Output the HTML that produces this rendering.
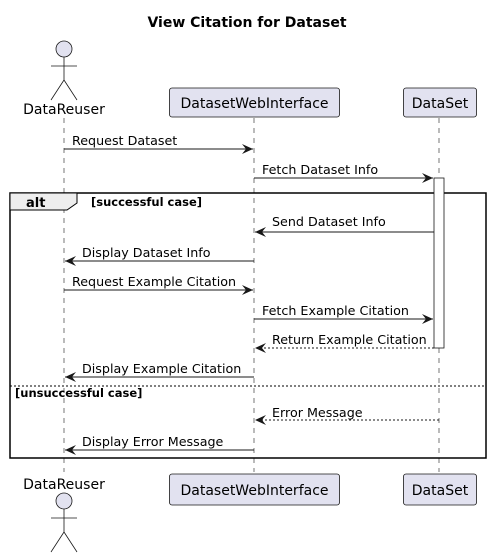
<!DOCTYPE html>
<html><head><meta charset="utf-8"><style>body{margin:0;background:#fff}svg{display:block}</style></head><body>
<svg width="492" height="555" viewBox="0 0 492 555" xmlns="http://www.w3.org/2000/svg" font-family="'DejaVu Sans','Liberation Sans',sans-serif">
<defs><marker id="a" viewBox="0 0 12 10" refX="11" refY="5" markerWidth="12" markerHeight="10" markerUnits="userSpaceOnUse" orient="auto"><path d="M0,0 L11,5 L0,10 L4,5 Z" fill="#181818"/></marker></defs>
<text x="247" y="27" font-size="14" font-weight="bold" text-anchor="middle" fill="#000">View Citation for Dataset</text>
<g stroke="#555" stroke-width="0.8" stroke-dasharray="5,5">
<line x1="64" y1="118" x2="64" y2="472"/><line x1="254" y1="118" x2="254" y2="472"/><line x1="439" y1="118" x2="439" y2="472"/></g>
<g fill="#E2E2F0" stroke="#181818" stroke-width="0.8">
<circle cx="64" cy="49" r="8"/><circle cx="64" cy="501" r="8"/>
<rect x="169.5" y="88" width="170" height="29" rx="2.5"/><rect x="403.5" y="88" width="73" height="29" rx="2.5"/>
<rect x="169.5" y="474" width="170" height="31" rx="2.5"/><rect x="403.5" y="474" width="73" height="31" rx="2.5"/>
</g>
<g stroke="#181818" stroke-width="0.8" fill="none">
<path d="M64,57 V80 M51,66 H77 M51,100 L64,80 L77,100"/>
<path d="M64,509 V532 M51,518 H77 M51,552 L64,532 L77,552"/>
</g>
<g font-size="14" fill="#000">
<text x="64" y="114" text-anchor="middle">DataReuser</text>
<text x="64" y="489" text-anchor="middle">DataReuser</text>
<text x="254.5" y="108" text-anchor="middle">DatasetWebInterface</text>
<text x="440" y="108" text-anchor="middle">DataSet</text>
<text x="254.5" y="495" text-anchor="middle">DatasetWebInterface</text>
<text x="440" y="495" text-anchor="middle">DataSet</text>
</g>
<rect x="10" y="193" width="476" height="265" fill="none" stroke="#000" stroke-width="1.5"/>
<path d="M10,193 H77 V203 L67,210 H10 Z" fill="#EEEEEE" stroke="#000" stroke-width="1"/>
<text x="26" y="207" font-size="13" font-weight="bold">alt</text>
<text x="91" y="206" font-size="11.5" font-weight="bold">[successful case]</text>
<line x1="10" y1="386" x2="486" y2="386" stroke="#000" stroke-width="1" stroke-dasharray="2,2"/>
<text x="15" y="397" font-size="11.5" font-weight="bold">[unsuccessful case]</text>
<rect x="434" y="178" width="10" height="170" fill="#fff" stroke="#181818" stroke-width="0.8"/>
<g stroke="#181818" stroke-width="1" marker-end="url(#a)">
<line x1="64" y1="149" x2="253" y2="149"/>
<line x1="254" y1="178" x2="433" y2="178"/>
<line x1="434" y1="232" x2="255" y2="232"/>
<line x1="254" y1="261" x2="65" y2="261"/>
<line x1="64" y1="290" x2="253" y2="290"/>
<line x1="254" y1="319" x2="433" y2="319"/>
<line x1="434" y1="348" x2="255" y2="348" stroke-dasharray="2,2"/>
<line x1="254" y1="377" x2="65" y2="377"/>
<line x1="439" y1="420" x2="255" y2="420" stroke-dasharray="2,2"/>
<line x1="254" y1="450" x2="65" y2="450"/>
</g>
<g font-size="12.7" fill="#000">
<text x="72" y="145">Request Dataset</text>
<text x="262" y="174">Fetch Dataset Info</text>
<text x="272" y="226">Send Dataset Info</text>
<text x="82" y="257">Display Dataset Info</text>
<text x="72" y="286">Request Example Citation</text>
<text x="262" y="315">Fetch Example Citation</text>
<text x="272" y="344">Return Example Citation</text>
<text x="82" y="373">Display Example Citation</text>
<text x="272" y="417">Error Message</text>
<text x="82" y="446">Display Error Message</text>
</g>
</svg>
</body></html>
